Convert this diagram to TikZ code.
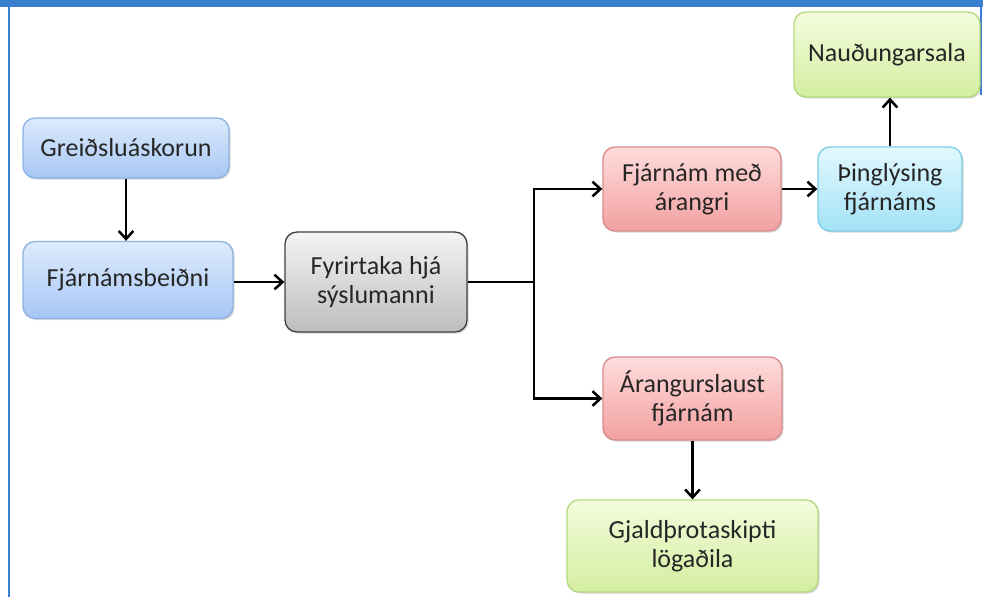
\documentclass[tikz,border=0pt]{standalone}
\usepackage{fontspec}
\setmainfont{Carlito}
\usetikzlibrary{arrows.meta,shadows}
\definecolor{barblue}{HTML}{3A7FD0}
\definecolor{txt}{HTML}{262626}
\definecolor{HTML8DB3E2}{HTML}{8DB3E2}
\definecolor{HTMLDDEBFC}{HTML}{DDEBFC}
\definecolor{HTMLA6C6F5}{HTML}{A6C6F5}
\definecolor{HTML404040}{HTML}{404040}
\definecolor{HTMLF4F4F4}{HTML}{F4F4F4}
\definecolor{HTMLBDBDBD}{HTML}{BDBDBD}
\definecolor{HTMLD98C8C}{HTML}{D98C8C}
\definecolor{HTMLFFDCDC}{HTML}{FFDCDC}
\definecolor{HTMLF2A0A0}{HTML}{F2A0A0}
\definecolor{HTML7CCDE6}{HTML}{7CCDE6}
\definecolor{HTMLE2F8FE}{HTML}{E2F8FE}
\definecolor{HTMLA3E2F7}{HTML}{A3E2F7}
\definecolor{HTMLB4D97E}{HTML}{B4D97E}
\definecolor{HTMLF3FCDD}{HTML}{F3FCDD}
\definecolor{HTMLD3EEA0}{HTML}{D3EEA0}
\tikzset{
  box/.style={rounded corners=9pt, draw, line width=1pt, align=center, text=txt,
    font=\fontsize{19.5}{22}\selectfont, inner sep=0pt, shading=axis,
    drop shadow={shadow xshift=1.2pt, shadow yshift=-1.2pt, opacity=0.25, fill=black!60}},
  bluebox/.style={box, draw=HTML8DB3E2, top color=HTMLDDEBFC, bottom color=HTMLA6C6F5},
  graybox/.style={box, draw=HTML404040, top color=HTMLF4F4F4, bottom color=HTMLBDBDBD},
  redbox/.style={box, draw=HTMLD98C8C, top color=HTMLFFDCDC, bottom color=HTMLF2A0A0},
  cyanbox/.style={box, draw=HTML7CCDE6, top color=HTMLE2F8FE, bottom color=HTMLA3E2F7},
  greenbox/.style={box, draw=HTMLB4D97E, top color=HTMLF3FCDD, bottom color=HTMLD3EEA0},
  conn/.style={line width=1.9pt, black},
  arr/.style={conn, -{Straight Barb[length=6pt,width=11pt,line width=1.9pt]}},
}
\begin{document}
\begin{tikzpicture}[x=0.75pt,y=-0.75pt]
\useasboundingbox (0,0) rectangle (983,597);
\fill[white] (0,0) rectangle (983,597);
% frame
\fill[barblue] (0,0) rectangle (983,7);
\fill[barblue] (7.5,7) rectangle (10,597);
\draw[barblue, line width=0.8pt] (981,7) -- (981,95);
% nodes
\node[bluebox, minimum width=154.5pt, minimum height=45pt] (greid) at (126,148) {Greiðsluáskorun};
\node[bluebox, minimum width=157.5pt, minimum height=57.75pt] (fjarb) at (128,280) {Fjárnámsbeiðni};
\node[graybox, minimum width=136.5pt, minimum height=75pt] (fyr) at (376,282) {Fyrirtaka hjá\\sýslumanni};
\node[redbox, minimum width=133.5pt, minimum height=63pt] (arangri) at (692,189) {Fjárnám með\\árangri};
\node[cyanbox, minimum width=108pt, minimum height=63pt] (thing) at (890,189) {Þinglýsing\\fjárnáms};
\node[greenbox, minimum width=139.5pt, minimum height=63.75pt] (naud) at (887,54.5) {Nauðungarsala};
\node[redbox, minimum width=134.25pt, minimum height=62.25pt] (arlaust) at (692.5,398.5) {Árangurslaust\\fjárnám};
\node[greenbox, minimum width=188.25pt, minimum height=69pt] (gjald) at (692.5,546) {Gjaldþrotaskipti\\lögaðila};
% connectors
\coordinate (split) at (534,282);
\draw[arr] (greid.south) -- (greid.south |- fjarb.north);
\draw[arr] (fjarb.east |- fyr.west) -- (fyr.west);
\draw[conn] (fyr.east) -- (split);
\draw[arr] (split) |- (arangri.west);
\draw[arr] (split) |- (arlaust.west);
\draw[arr] (arangri.east) -- (thing.west);
\draw[arr] (thing.north) -- (thing.north |- naud.south);
\draw[arr] (arlaust.south) -- (gjald.north);
\end{tikzpicture}
\end{document}
